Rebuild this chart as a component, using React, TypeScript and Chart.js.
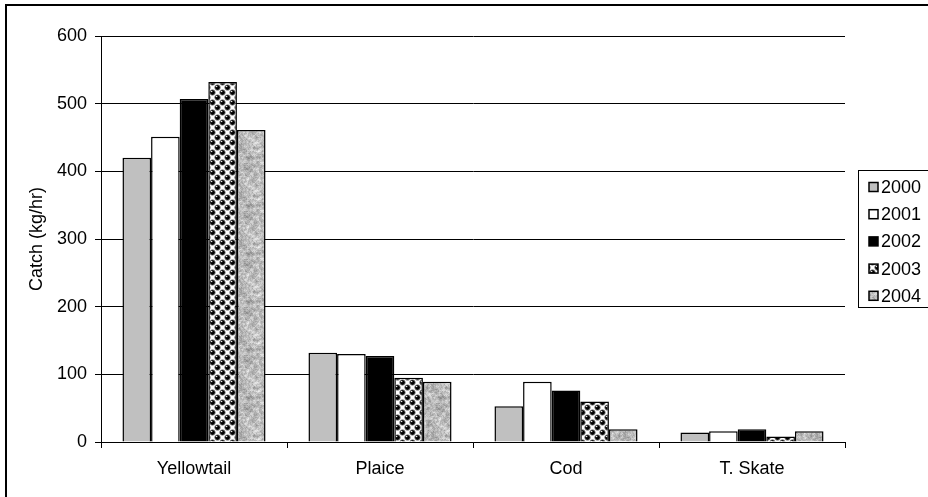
import React, { useEffect, useRef } from "react";
import { Chart, registerables } from "chart.js";

Chart.register(...registerables);

const species = ["Yellowtail", "Plaice", "Cod", "T. Skate"];
const years = ["2000", "2001", "2002", "2003", "2004"];
const catch2000 = [420, 132, 53, 14];
const catch2001 = [451, 130, 89, 16];
const catch2002 = [507, 127, 76, 19];
const catch2003 = [532, 95, 60, 8];
const catch2004 = [461, 89, 19, 16];
const yTicks = [0, 100, 200, 300, 400, 500, 600];

const FONT = "'Liberation Sans', Arial, sans-serif";
const FONT_SIZE = 18;

// Black ball pattern on a white checker
function ballPattern(): CanvasPattern | string {
  const n = 10;
  const t = document.createElement("canvas");
  t.width = n;
  t.height = n;
  const c = t.getContext("2d");
  if (!c) return "#444";
  c.fillStyle = "#ffffff";
  c.fillRect(0, 0, n, n);
  const h = n / 4;
  const ball = (x: number, y: number) => {
    c.beginPath();
    c.arc(x, y, 2.8, 0, Math.PI * 2);
    c.fillStyle = "#000";
    c.fill();
    c.lineWidth = 0.8;
    c.strokeStyle = "#9a9a9a";
    c.stroke();
    c.fillStyle = "#ffffff";
    c.fillRect(x - 1.6, y - 1.4, 1.4, 1);
  };
  const centres = [
    [h, h], [3 * h, 3 * h], [h + n, h], [3 * h - n, 3 * h],
    [h, h + n], [3 * h, 3 * h - n], [h + n, h + n], [3 * h - n, 3 * h - n],
  ];
  for (const [x, y] of centres) ball(x, y);
  const ctx = document.createElement("canvas").getContext("2d");
  return ctx ? (ctx.createPattern(t, "repeat") as CanvasPattern) : "#444";
}

// Grey granite texture
function granitePattern(): CanvasPattern | string {
  const size = 48;
  const t = document.createElement("canvas");
  t.width = size;
  t.height = size;
  const c = t.getContext("2d");
  if (!c) return "#b8b8b8";
  const wrap = (v: number) => ((v % size) + size) % size;
  const hash = (x: number, y: number) => {
    const s = Math.sin(wrap(x) * 12.9898 + wrap(y) * 78.233) * 43758.5453;
    return s - Math.floor(s);
  };
  const img = c.createImageData(size, size);
  for (let y = 0; y < size; y++) {
    for (let x = 0; x < size; x++) {
      let sum = 0;
      let w = 0;
      for (let dy = -1; dy <= 1; dy++) {
        for (let dx = -1; dx <= 1; dx++) {
          const k = dx === 0 && dy === 0 ? 2 : 1;
          sum += hash(x + dx, y + dy) * k;
          w += k;
        }
      }
      const v = sum / w;
      const fine = hash(x * 3 + 7, y * 5 + 1);
      const g = Math.round(110 + v * 150 + (fine - 0.5) * 30);
      const i = (y * size + x) * 4;
      img.data[i] = g;
      img.data[i + 1] = g;
      img.data[i + 2] = g;
      img.data[i + 3] = 255;
    }
  }
  c.putImageData(img, 0, 0);
  const ctx = document.createElement("canvas").getContext("2d");
  return ctx ? (ctx.createPattern(t, "repeat") as CanvasPattern) : "#b8b8b8";
}

export default function App() {
  const ref = useRef<HTMLCanvasElement | null>(null);

  useEffect(() => {
    document.body.style.margin = "0";
    const canvas = ref.current;
    if (!canvas) return;

    const fills: (string | CanvasPattern)[] = [
      "#c0c0c0",
      "#ffffff",
      "#000000",
      ballPattern(),
      granitePattern(),
    ];
    const series = [catch2000, catch2001, catch2002, catch2003, catch2004];

    const framePlugin = {
      id: "frameAndLegend",
      beforeDraw(chart: any) {
        const ctx = chart.ctx;
        ctx.save();
        ctx.fillStyle = "#fff";
        ctx.fillRect(0, 0, chart.width, chart.height);
        ctx.strokeStyle = "#000";
        ctx.lineWidth = 2;
        ctx.strokeRect(6, 5, chart.width + 20, chart.height + 20);
        ctx.restore();
      },
      afterDraw(chart: any) {
        const ctx = chart.ctx;
        const area = chart.chartArea;
        const boxL = area.right + 13.5;
        const boxT = 170.5;
        const boxW = 70;
        const boxH = 137;
        ctx.save();
        ctx.fillStyle = "#fff";
        ctx.fillRect(boxL, boxT, boxW, boxH);
        ctx.strokeStyle = "#000";
        ctx.lineWidth = 1;
        ctx.strokeRect(boxL, boxT, boxW, boxH);
        ctx.font = `${FONT_SIZE}px ${FONT}`;
        ctx.textBaseline = "middle";
        ctx.textAlign = "left";
        years.forEach((yr, i) => {
          const cy = boxT + 16.5 + i * 27.2;
          const sx = boxL + 10.5;
          ctx.fillStyle = fills[i];
          ctx.fillRect(sx, cy - 4.5, 9, 9);
          ctx.strokeStyle = "#000";
          ctx.lineWidth = 1.5;
          ctx.strokeRect(sx, cy - 4.5, 9, 9);
          ctx.fillStyle = "#000";
          ctx.fillText(yr, sx + 12, cy + 1);
        });
        ctx.restore();
      },
    };

    const chart = new Chart(canvas, {
      type: "bar",
      data: {
        labels: species,
        datasets: years.map((yr, i) => ({
          label: yr,
          data: series[i],
          backgroundColor: fills[i] as any,
          borderColor: "#000",
          borderWidth: 1.5,
          categoryPercentage: 5 / 6.5,
          barPercentage: 1,
        })),
      },
      options: {
        responsive: false,
        animation: false,
        layout: { padding: { top: 36, right: 83, left: 0, bottom: 0 } },
        plugins: {
          legend: { display: false },
          tooltip: { enabled: false },
        },
        scales: {
          x: {
            offset: true,
            grid: {
              offset: true,
              drawOnChartArea: false,
              color: "#000",
              tickLength: 6,
              lineWidth: 1,
            },
            border: { color: "#000", width: 1 },
            ticks: {
              color: "#000",
              font: { family: FONT, size: FONT_SIZE },
              padding: 10,
              maxRotation: 0,
            },
            afterFit(scale: any) {
              scale.height = 55;
            },
          },
          y: {
            min: 0,
            max: 600,
            afterBuildTicks(scale: any) {
              scale.ticks = yTicks.map((v) => ({ value: v }));
            },
            grid: { color: "#000", lineWidth: 1, tickLength: 6 },
            border: { color: "#000", width: 1 },
            ticks: {
              color: "#000",
              font: { family: FONT, size: FONT_SIZE },
              padding: 8,
            },
            title: {
              display: true,
              text: "Catch (kg/hr)",
              color: "#000",
              font: { family: FONT, size: FONT_SIZE },
              padding: { top: 26, bottom: 0 },
            },
            afterFit(scale: any) {
              scale.width = 101;
            },
          },
        },
      },
      plugins: [framePlugin],
    });

    return () => chart.destroy();
  }, []);

  return (
    <div style={{ width: 928, height: 497, position: "relative" }}>
      <canvas ref={ref} width={928} height={497} style={{ display: "block" }} />
    </div>
  );
}
